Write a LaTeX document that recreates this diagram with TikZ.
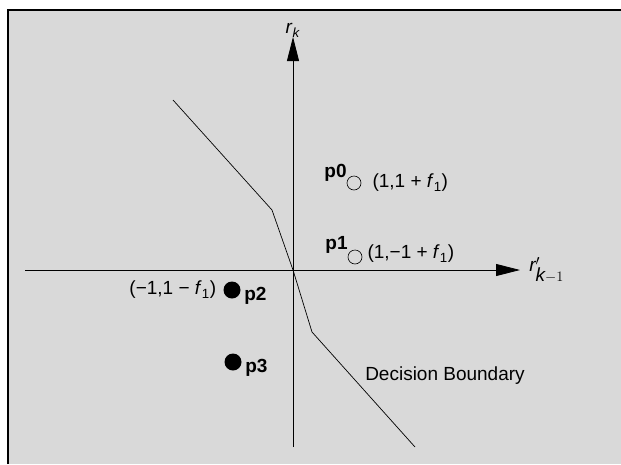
\documentclass[tikz,border=0pt]{standalone}
\usepackage{fontspec}
\setmainfont{Liberation Sans}
\usetikzlibrary{arrows.meta,positioning}

\begin{document}
\begin{tikzpicture}[x=1pt,y=-1pt,
  axis/.style={line width=0.8pt,-{Triangle[length=24pt,width=12pt]}},
  open/.style={circle,draw,line width=0.6pt,minimum size=14pt,inner sep=0pt},
  full/.style={circle,fill,minimum size=17pt,inner sep=0pt},
  tag/.style={font=\fontsize{19}{22}\selectfont\bfseries,inner sep=1pt},
  txt/.style={font=\fontsize{19}{22}\selectfont,inner sep=1pt}]
\useasboundingbox (0,0) rectangle (621,464);
% textured panel
\fill[black!15] (8,10) rectangle (621,464);
\draw[line width=2.2pt] (8,464)--(8,10)--(621,10);

% axes
\coordinate (O) at (293,270);
\coordinate (ybot) at (293,447);
\coordinate (ytip) at (293,37);
\coordinate (xleft) at (25,270);
\coordinate (xtip) at (520,270);
\draw[axis](ybot)--(ytip)node[txt,above=-2pt]{\textit{r}\textsubscript{\textit{k}}};
\draw[axis](xleft)--(xtip)node[txt,right=8pt]{$\textit{r}'_{\textit{k}-1}$};

% decision boundary
\coordinate (b1) at (173,100);
\coordinate (b2) at (272,210);
\coordinate (b3) at (312,332);
\coordinate (b4) at (415,447);
\draw[line width=0.7pt](b1)--(b2)--(O)--(b3)--(b4);
\node[txt] (db) at (445,376) {Decision Boundary};

% points
\node[open] (p0) at (354,183) {};
\node[open] (p1) at (355,257) {};
\node[full] (p2) at (232,290) {};
\node[full] (p3) at (233,362) {};

\node[tag,above left=-5pt and 1pt of p0] (l0) {p0};
\node[tag,above left=-3pt and 1pt of p1] (l1) {p1};
\node[tag,below right=-10pt and 5pt of p2] (l2) {p2};
\node[tag,below right=-10pt and 5pt of p3] (l3) {p3};

\node[txt,right=10pt of p0] (c0) {(1,1 + \textit{f}\textsubscript{1})};
\node[txt,right=4pt of p1,yshift=3pt] (c1) {(1,−1 + \textit{f}\textsubscript{1})};
\node[txt,left=6pt of p2] (c2) {(−1,1 − \textit{f}\textsubscript{1})};
\end{tikzpicture}
\end{document}
